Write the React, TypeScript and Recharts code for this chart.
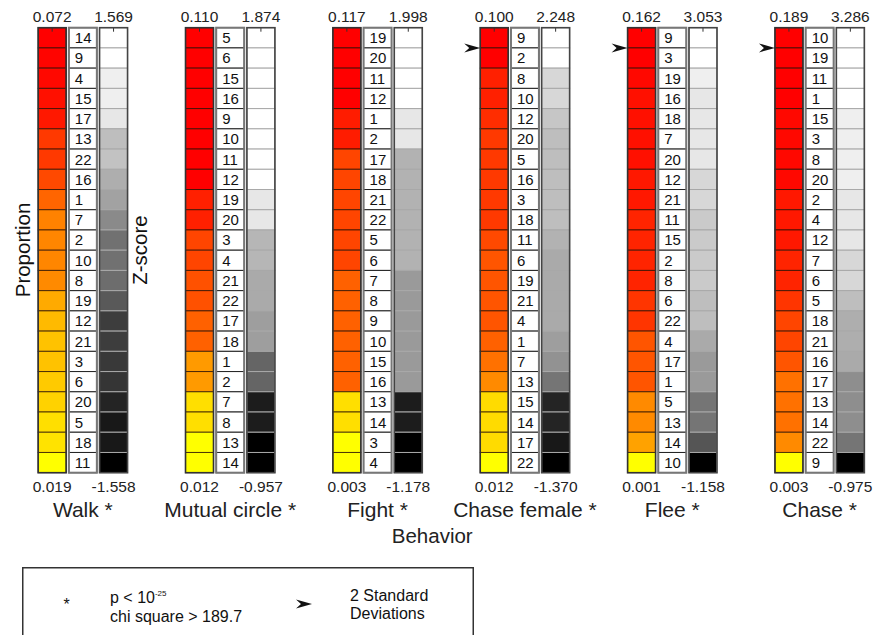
import React from 'react';
import { ComposedChart, Scatter, XAxis, YAxis, Legend } from 'recharts';

const behaviors = ['Walk *', 'Mutual circle *', 'Fight *', 'Chase female *', 'Flee *', 'Chase *'];
const propMax = [0.072, 0.11, 0.117, 0.1, 0.162, 0.189];
const propMin = [0.019, 0.012, 0.003, 0.012, 0.001, 0.003];
const zMax = [1.569, 1.874, 1.998, 2.248, 3.053, 3.286];
const zMin = [-1.558, -0.957, -1.178, -1.37, -1.158, -0.975];
// how many top-ranked flies sit above the 2 SD arrow
const aboveTwoSD = [0, 0, 0, 1, 1, 1];

// fly ids, ranked top to bottom
const walkIds = [14, 9, 4, 15, 17, 13, 22, 16, 1, 7, 2, 10, 8, 19, 12, 21, 3, 6, 20, 5, 18, 11];
const mutualIds = [5, 6, 15, 16, 9, 10, 11, 12, 19, 20, 3, 4, 21, 22, 17, 18, 1, 2, 7, 8, 13, 14];
const fightIds = [19, 20, 11, 12, 1, 2, 17, 18, 21, 22, 5, 6, 7, 8, 9, 10, 15, 16, 13, 14, 3, 4];
const chaseFemaleIds = [9, 2, 8, 10, 12, 20, 5, 16, 3, 18, 11, 6, 19, 21, 4, 1, 7, 13, 15, 14, 17, 22];
const fleeIds = [9, 3, 19, 16, 18, 7, 20, 12, 21, 11, 15, 2, 8, 6, 22, 4, 17, 1, 5, 13, 14, 10];
const chaseIds = [10, 19, 11, 1, 15, 3, 8, 20, 2, 4, 12, 7, 6, 5, 18, 21, 16, 17, 13, 14, 22, 9];

// proportion of time (estimated from the colour of each cell)
const walkProp = [0.072, 0.071, 0.07, 0.069, 0.067, 0.06, 0.06, 0.057, 0.051, 0.045, 0.044, 0.044, 0.043, 0.037, 0.033, 0.032, 0.032, 0.03, 0.028, 0.026, 0.025, 0.019];
const mutualProp = [0.11, 0.11, 0.11, 0.11, 0.11, 0.11, 0.11, 0.11, 0.098, 0.098, 0.084, 0.084, 0.079, 0.079, 0.073, 0.073, 0.051, 0.051, 0.024, 0.024, 0.012, 0.012];
const fightProp = [0.117, 0.117, 0.117, 0.117, 0.105, 0.105, 0.087, 0.087, 0.087, 0.087, 0.087, 0.087, 0.074, 0.074, 0.074, 0.074, 0.074, 0.074, 0.017, 0.017, 0.003, 0.003];
const chaseFemaleProp = [0.1, 0.1, 0.089, 0.089, 0.084, 0.08, 0.08, 0.08, 0.08, 0.08, 0.075, 0.071, 0.071, 0.071, 0.071, 0.066, 0.061, 0.053, 0.025, 0.025, 0.025, 0.012];
const fleeProp = [0.162, 0.161, 0.157, 0.152, 0.152, 0.152, 0.152, 0.146, 0.146, 0.139, 0.139, 0.139, 0.139, 0.13, 0.13, 0.108, 0.108, 0.108, 0.076, 0.076, 0.061, 0.001];
const chaseProp = [0.189, 0.189, 0.188, 0.188, 0.183, 0.183, 0.183, 0.183, 0.17, 0.17, 0.17, 0.162, 0.162, 0.152, 0.139, 0.139, 0.127, 0.107, 0.107, 0.107, 0.09, 0.003];

// z-scores (estimated from the grey level)
const walkZ = [1.569, 1.55, 1.385, 1.38, 1.25, 0.796, 0.8, 0.6, 0.404, 0.11, -0.18, -0.19, -0.2, -0.454, -0.82, -0.83, -0.84, -0.93, -1.09, -1.24, -1.25, -1.558];
const mutualZ = [1.874, 1.874, 1.874, 1.874, 1.874, 1.874, 1.874, 1.874, 1.585, 1.585, 1.086, 1.086, 0.93, 0.93, 0.775, 0.775, 0.175, 0.175, -0.646, -0.646, -0.957, -0.957];
const fightZ = [1.998, 1.998, 1.998, 1.998, 1.674, 1.674, 1.051, 1.051, 1.051, 1.051, 1.051, 1.051, 0.74, 0.74, 0.74, 0.74, 0.74, 0.74, -0.829, -0.829, -1.178, -1.178];
const chaseFemaleZ = [2.248, 2.24, 1.695, 1.695, 1.468, 1.354, 1.354, 1.354, 1.354, 1.354, 1.17, 1.042, 1.042, 1.042, 1.042, 0.843, 0.673, 0.318, -0.845, -0.845, -1.001, -1.37];
const fleeZ = [3.053, 3.04, 2.805, 2.624, 2.624, 2.624, 2.624, 2.409, 2.409, 2.211, 2.211, 2.211, 2.211, 2.013, 2.013, 1.649, 1.385, 1.385, 0.807, 0.75, 0.246, -1.158];
const chaseZ = [3.286, 3.28, 3.27, 3.26, 3.035, 3.035, 3.035, 3.035, 2.851, 2.851, 2.851, 2.634, 2.634, 2.233, 1.966, 1.966, 1.866, 1.364, 1.364, 1.364, 1.013, -0.975];

const allIds = [walkIds, mutualIds, fightIds, chaseFemaleIds, fleeIds, chaseIds];
const allProp = [walkProp, mutualProp, fightProp, chaseFemaleProp, fleeProp, chaseProp];
const allZ = [walkZ, mutualZ, fightZ, chaseFemaleZ, fleeZ, chaseZ];

const W = 873;
const H = 635;
const FONT = "'Liberation Sans', Arial, Helvetica, sans-serif";
const PLOT_TOP = 27.7;
const PLOT_BOTTOM = 472.7;
const PLOT_LEFT = 36.8;
const PLOT_RIGHT = 865.7;
const MIN_AXIS_H = 22;
const NAME_AXIS_H = 60;
const ROWS = 22;
const ROW_H = (PLOT_BOTTOM - PLOT_TOP) / ROWS;
const CELL_W = 28;
const GROUP_STEP = 4.8;
const X_DOMAIN: [number, number] = [-0.5, (behaviors.length - 1) * GROUP_STEP + 2.5];

// 64-step colormaps like matlab's
const level = (t: number) => Math.round((Math.round(Math.max(0, Math.min(1, t)) * 63) / 63) * 255);
const autumn = (v: number, lo: number, hi: number) => `rgb(255,${level((hi - v) / (hi - lo))},0)`;
const grey = (v: number, lo: number, hi: number) => {
  const g = level((v - lo) / (hi - lo));
  return `rgb(${g},${g},${g})`;
};

const propCells = allProp.flatMap((vals, g) =>
  vals.map((v, i) => ({ x: g * GROUP_STEP, rank: i + 1, fill: autumn(v, propMin[g], propMax[g]) }))
);
const idCells = allIds.flatMap((vals, g) => vals.map((id, i) => ({ x: g * GROUP_STEP + 1, rank: i + 1, id })));
const zCells = allZ.flatMap((vals, g) =>
  vals.map((v, i) => ({ x: g * GROUP_STEP + 2, rank: i + 1, fill: grey(v, zMin[g], zMax[g]) }))
);
const sdMarks = aboveTwoSD
  .map((n, g) => ({ x: g * GROUP_STEP, rank: n + 0.5, n }))
  .filter((d) => d.n > 0);

const topTicks = behaviors.flatMap((_, g) => [g * GROUP_STEP, g * GROUP_STEP + 2]);
const topLabels = behaviors.flatMap((_, g) => [propMax[g].toFixed(3), zMax[g].toFixed(3)]);
const bottomLabels = behaviors.flatMap((_, g) => [propMin[g].toFixed(3), zMin[g].toFixed(3)]);
const nameTicks = behaviors.map((_, g) => g * GROUP_STEP + 1);

const pick = (ticks: number[], labels: string[]) => (v: number) => {
  const i = ticks.findIndex((t) => Math.abs(t - v) < 1e-6);
  return i >= 0 ? labels[i] : '';
};

const frame = (cx: number, cy: number, stroke: string, width: number) => (
  <rect
    x={cx - CELL_W / 2}
    y={cy + ROW_H / 2 - ROWS * ROW_H}
    width={CELL_W}
    height={ROWS * ROW_H}
    fill="none"
    stroke={stroke}
    strokeWidth={width}
  />
);

const ColourCell = (p: any) => {
  const { cx, cy, payload } = p;
  const top = cy - ROW_H / 2;
  return (
    <g>
      <rect x={cx - CELL_W / 2} y={top} width={CELL_W} height={ROW_H} fill={payload.fill} stroke="rgba(40,15,0,0.75)" strokeWidth={1} />
      {payload.rank === 1 && <line x1={cx} x2={cx} y1={top} y2={top + 4} stroke="#333" strokeWidth={1} />}
      {payload.rank === ROWS && frame(cx, cy, '#333', 1.6)}
    </g>
  );
};

const IdCell = (p: any) => {
  const { cx, cy, payload } = p;
  return (
    <g>
      <rect x={cx - CELL_W / 2} y={cy - ROW_H / 2} width={CELL_W} height={ROW_H} fill="#fff" stroke="#222" strokeWidth={1} />
      <text x={cx - CELL_W / 2 + 6} y={cy + 5.4} fontSize={15} fontFamily={FONT} fill="#111">
        {payload.id}
      </text>
      {payload.rank === ROWS && frame(cx, cy, '#777', 2)}
    </g>
  );
};

const GreyCell = (p: any) => {
  const { cx, cy, payload } = p;
  const top = cy - ROW_H / 2;
  return (
    <g>
      <rect x={cx - CELL_W / 2} y={top} width={CELL_W} height={ROW_H} fill={payload.fill} stroke="#a8a8a8" strokeWidth={1} />
      {payload.rank === 1 && <line x1={cx} x2={cx} y1={top} y2={top + 4} stroke="#333" strokeWidth={1} />}
      {payload.rank === ROWS && frame(cx, cy, '#444', 1.6)}
    </g>
  );
};

const Arrow = ({ tx, ty }: { tx: number; ty: number }) => (
  <path d={`M${tx},${ty} L${tx - 16},${ty - 4.5} L${tx - 11},${ty} L${tx - 16},${ty + 4.5} Z`} fill="#111" />
);

const SdMark = (p: any) => <Arrow tx={p.cx - CELL_W / 2} ty={p.cy} />;

const LegendBox = () => (
  <svg width={452} height={70} style={{ display: 'block', overflow: 'visible' }}>
    <rect x={0.75} y={0.75} width={450.5} height={90} fill="#fff" stroke="#333" strokeWidth={1.5} />
    <g fontFamily={FONT} fill="#111" fontSize={16}>
      <text x={44.7} y={43} textAnchor="middle">*</text>
      <text x={88} y={36.3}>
        p &lt; 10
        <tspan fontSize={8} dy={-7.3}>-25</tspan>
      </text>
      <text x={88} y={55.4}>chi square &gt; 189.7</text>
      <text x={328} y={33.7}>2 Standard</text>
      <text x={328} y={52}>Deviations</text>
    </g>
    <Arrow tx={290} ty={37} />
  </svg>
);

const axisCommon = {
  dataKey: 'x',
  type: 'number' as const,
  domain: X_DOMAIN,
  scale: 'linear' as const,
  interval: 0 as const,
  tickLine: false,
  axisLine: false,
};

export default function App() {
  return (
    <div style={{ position: 'absolute', left: 0, top: 0, width: W, height: H, background: '#fff' }}>
      <ComposedChart
        width={W}
        height={H}
        margin={{ top: 0, right: W - PLOT_RIGHT, bottom: H - PLOT_BOTTOM - MIN_AXIS_H - NAME_AXIS_H, left: PLOT_LEFT }}
      >
        <XAxis
          {...axisCommon}
          xAxisId="max"
          orientation="top"
          height={PLOT_TOP}
          ticks={topTicks}
          tickFormatter={pick(topTicks, topLabels)}
          tickSize={4}
          tickMargin={2}
          tick={{ fontSize: 15.5, fill: '#222', fontFamily: FONT }}
        />
        <XAxis
          {...axisCommon}
          xAxisId="min"
          height={MIN_AXIS_H}
          ticks={topTicks}
          tickFormatter={pick(topTicks, bottomLabels)}
          tickSize={6}
          tickMargin={2}
          tick={{ fontSize: 15.5, fill: '#222', fontFamily: FONT }}
        />
        <XAxis
          {...axisCommon}
          xAxisId="names"
          height={NAME_AXIS_H}
          ticks={nameTicks}
          tickFormatter={pick(nameTicks, behaviors)}
          tickSize={0}
          tickMargin={7}
          tick={{ fontSize: 21, fill: '#222', fontFamily: FONT }}
          label={{
            content: (lp: any) => {
              const vb = lp.viewBox;
              return (
                <text x={vb.x + vb.width / 2 - 19} y={vb.y + 48.6} textAnchor="middle" fontSize={20.5} fontFamily={FONT} fill="#222">
                  Behavior
                </text>
              );
            },
          }}
        />
        <YAxis yAxisId="rank" dataKey="rank" type="number" domain={[0.5, ROWS + 0.5]} scale="linear" reversed hide />
        <Scatter xAxisId="max" yAxisId="rank" data={propCells} shape={ColourCell} isAnimationActive={false} />
        <Scatter xAxisId="names" yAxisId="rank" data={idCells} shape={IdCell} isAnimationActive={false} />
        <Scatter xAxisId="min" yAxisId="rank" data={zCells} shape={GreyCell} isAnimationActive={false} />
        <Scatter xAxisId="min" yAxisId="rank" data={sdMarks} shape={SdMark} isAnimationActive={false} />
        <Legend
          layout="horizontal"
          verticalAlign="middle"
          align="center"
          width={452}
          height={70}
          wrapperStyle={{ left: 22, top: 567, width: 452, height: 70 }}
          content={() => <LegendBox />}
        />
      </ComposedChart>
      <svg width={W} height={H} style={{ position: 'absolute', left: 0, top: 0, pointerEvents: 'none' }}>
        <g fontFamily={FONT} fontSize={20.5} fill="#111" textAnchor="middle" dominantBaseline="central">
          <text transform="translate(22.7,250) rotate(-90)">Proportion</text>
          <text transform="translate(139.3,250) rotate(-90)">Z-score</text>
        </g>
      </svg>
    </div>
  );
}
